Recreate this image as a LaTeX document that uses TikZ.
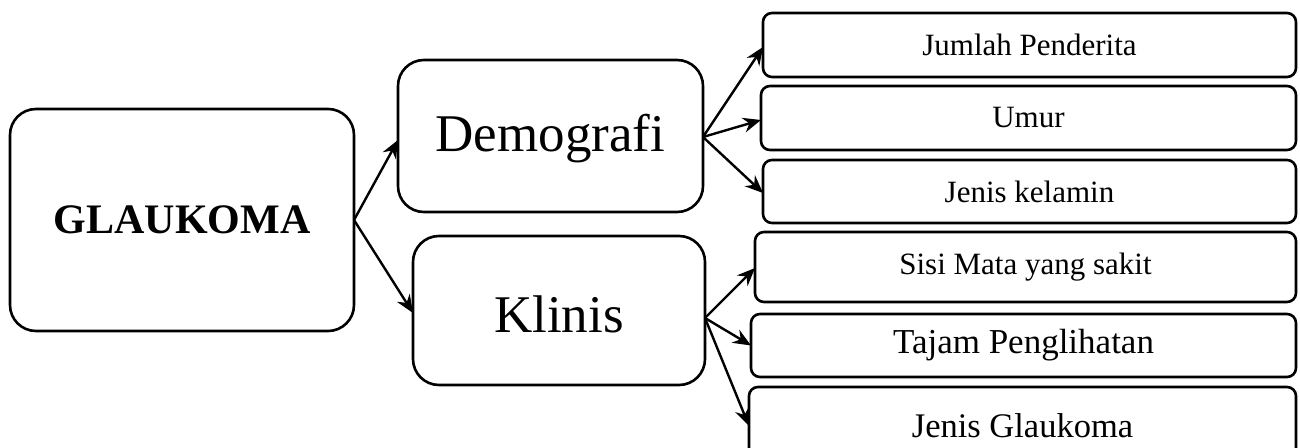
\documentclass[tikz,border=0pt]{standalone}
\usepackage{fontspec}
\setmainfont{Liberation Serif}
\usetikzlibrary{arrows.meta}
\tikzset{
  box/.style={draw=black, line width=2.6pt, inner sep=0pt, outer sep=0pt, align=center},
  bigbox/.style={box, rounded corners=26pt},
  smallbox/.style={box, rounded corners=9pt, font=\fontsize{31}{36}\selectfont},
  conn/.style={line width=2.4pt, -{Stealth[length=18pt,width=15pt,inset=6pt]}},
}
\begin{document}
\begin{tikzpicture}[x=1pt,y=-1pt]
\useasboundingbox (0,0) rectangle (1300,447);
\node[bigbox, minimum width=344pt, minimum height=222pt, font=\bfseries\fontsize{42}{48}\selectfont] (g) at (182,220) {GLAUKOMA};
\node[bigbox, minimum width=305pt, minimum height=152pt, text height=37pt, text depth=6pt, font=\fontsize{53}{60}\selectfont] (dem) at (550.5,136) {Demografi};
\node[bigbox, minimum width=292pt, minimum height=149pt, text height=44pt, text depth=0pt, font=\fontsize{53}{60}\selectfont] (kl) at (559,310.5) {Klinis};
\node[smallbox, minimum width=533pt, minimum height=64pt] (jp) at (1029.5,45) {Jumlah Penderita};
\node[smallbox, minimum width=535pt, minimum height=64pt] (um) at (1028.5,118) {Umur};
\node[smallbox, minimum width=533pt, minimum height=63pt] (jk) at (1029.5,191.5) {Jenis kelamin};
\node[smallbox, minimum width=541pt, minimum height=70pt] (sm) at (1025.5,267) {Sisi Mata yang sakit};
\node[smallbox, minimum width=545pt, minimum height=63pt, font=\fontsize{35}{40}\selectfont] (tp) at (1023.5,345.5) {Tajam Penglihatan};
\node[smallbox, minimum width=547pt, minimum height=78pt, font=\fontsize{34.5}{40}\selectfont] (jg) at (1022.5,426) {Jenis Glaukoma};
\draw[conn] (g.east) -- ([yshift=-4pt]dem.west);
\draw[conn] (g.east) -- ([yshift=-2.5pt]kl.west);
\draw[conn] ([yshift=-1pt]dem.east) -- ([yshift=-2pt]jp.west);
\draw[conn] ([yshift=-1pt]dem.east) -- ([yshift=-2pt]um.west);
\draw[conn] ([yshift=-1pt]dem.east) -- ([yshift=-1.5pt]jk.west);
\draw[conn] ([yshift=-7.5pt]kl.east) -- ([yshift=-1pt]sm.west);
\draw[conn] ([yshift=-7.5pt]kl.east) -- (tp.west);
\draw[conn] ([yshift=-7.5pt]kl.east) -- (jg.west);
\end{tikzpicture}
\end{document}
